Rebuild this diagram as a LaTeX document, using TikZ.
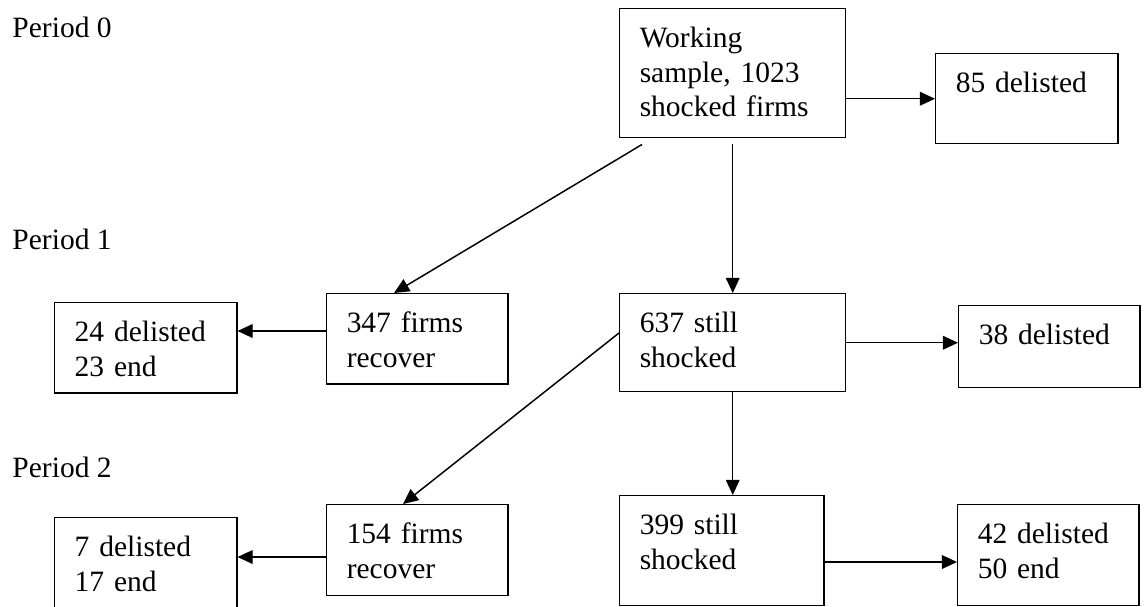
\documentclass[tikz,border=0pt]{standalone}
\usepackage{fontspec}
\setmainfont{Liberation Serif}
\usetikzlibrary{arrows.meta,calc}
\begin{document}
\begin{tikzpicture}[x=0.4068pt,y=-0.4068pt,font=\fontsize{12}{14}\selectfont,
  box/.style 2 args={draw,line width=0.6pt,anchor=north west,align=left,
    inner xsep=8.14pt,inner ysep=0pt,text height=15.87pt,text width=#1,text depth=#2},
  period/.style={anchor=base west,inner sep=0pt},
  arr/.style={-{Triangle[length=6.2pt,width=5.6pt]},line width=0.6pt}]
\useasboundingbox (0,0) rectangle (1144,606);

% period labels
\node[period] (p0) at (12,37) {Period 0};
\node[period] (p1) at (12,249) {Period 1};
\node[period] (p2) at (12,477) {Period 2};

% period 0
\node[box={75.66pt}{36.61pt}] (w0) at (619,8) {Working\\sample, 1023\\shocked firms};
\node[box={57.77pt}{20.75pt}] (d0) at (935,53) {85 delisted};

% period 1
\node[box={57.77pt}{20.75pt}] (e1) at (54,302) {24 delisted\\23 end};
\node[box={57.36pt}{20.75pt}] (r1) at (326,293) {347 firms\\recover};
\node[box={75.66pt}{24.00pt}] (s1) at (619,293) {637 still\\shocked};
\node[box={57.36pt}{17.49pt}] (d1) at (958,305) {38 delisted};

% period 2
\node[box={57.77pt}{28.88pt}] (e2) at (54,517) {7 delisted\\17 end};
\node[box={57.36pt}{21.15pt}] (r2) at (326,504) {154 firms\\recover};
\node[box={66.72pt}{28.88pt}] (s2) at (619,495) {399 still\\shocked};
\node[box={57.36pt}{25.22pt}] (e3) at (957,504) {42 delisted\\50 end};

% connectors
\draw[arr] (w0.east |- d0.west) -- (d0.west);
\draw[arr,shorten <=2.4pt] (w0.south) -- (s1.north);
\draw[arr] ($(w0.south west)+(23,6)$) -- ($(r1.north west)+(68,0)$);

\coordinate (r1out) at ($(r1.north west)+(0,38)$);
\draw[arr] (r1out) -- (r1out -| e1.east);
\draw[arr] (s1.east) -- (s1.east -| d1.west);
\draw[arr] (s1.south) -- (s1.south |- s2.north);
\draw[arr] ($(s1.north west)+(0,40)$) -- ($(r2.north west)+(77,0)$);

\coordinate (r2out) at ($(r2.north west)+(0,53)$);
\draw[arr] (r2out) -- (r2out -| e2.east);
\coordinate (s2out) at ($(s2.north east)+(0,67)$);
\draw[arr] (s2out) -- (s2out -| e3.west);
\end{tikzpicture}
\end{document}
